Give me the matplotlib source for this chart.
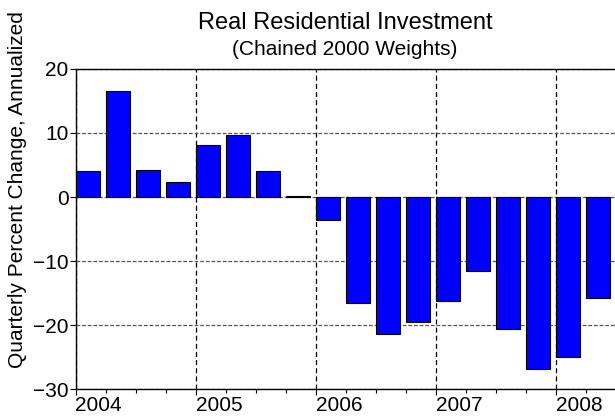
import matplotlib
matplotlib.use("Agg")
import matplotlib.pyplot as plt
from matplotlib.ticker import MultipleLocator, FixedLocator

plt.rcParams['font.family'] = ['Liberation Sans', 'DejaVu Sans']

# datos: trimestres 2004Q1 - 2008Q2
anios = [2004, 2004, 2004, 2004, 2005, 2005, 2005, 2005, 2006, 2006, 2006, 2006,
         2007, 2007, 2007, 2007, 2008, 2008]
trimestres = [1, 2, 3, 4, 1, 2, 3, 4, 1, 2, 3, 4, 1, 2, 3, 4, 1, 2]
valores = [4.0, 16.6, 4.2, 2.4, 8.1, 9.7, 4.0, 0.15, -3.6, -16.5, -21.4, -19.5,
           -16.2, -11.6, -20.6, -26.9, -25.0, -15.8]
etiquetas_anios = ["2004", "2005", "2006", "2007", "2008"]

posiciones = [a + (t - 1) / 4 for a, t in zip(anios, trimestres)]

fig = plt.figure(figsize=(6.15, 4.19), dpi=100)
ax = fig.add_axes([75.5 / 615, 30 / 419, 541 / 615, 320 / 419])

ax.bar(posiciones, valores, width=0.2, align='edge', color='#0000FF',
       edgecolor='black', linewidth=0.8, zorder=3)

ax.set_xlim(2004, 2008.5)
ax.set_ylim(-30, 20)

# cuadricula
ax.xaxis.set_major_locator(FixedLocator([2004, 2005, 2006, 2007, 2008]))
ax.xaxis.set_minor_locator(MultipleLocator(0.25))
ax.yaxis.set_major_locator(MultipleLocator(10))
ax.set_xticklabels(etiquetas_anios, ha='left')
ax.grid(axis='x', which='major', color='black', linestyle=(0, (4, 2.5)), linewidth=0.9, zorder=1)
ax.grid(axis='y', which='major', color='#555555', linestyle=(0, (3, 1.5)), linewidth=0.9, zorder=1)
ax.set_axisbelow(True)

ax.tick_params(axis='both', which='major', direction='out', length=4, width=0.8,
               labelsize=15, pad=1)
ax.tick_params(axis='x', which='minor', direction='out', length=3, width=0.8)
ax.spines['right'].set_visible(False)
for s in ['top', 'left', 'bottom']:
    ax.spines[s].set_linewidth(1.0)

fig.text(345 / 615, 1 - 29 / 419, "Real Residential Investment", ha='center',
         va='baseline', fontsize=17)
fig.text(345 / 615, 1 - 55 / 419, "(Chained 2000 Weights)", ha='center',
         va='baseline', fontsize=15)
fig.text(18 / 615, 229 / 419, "Quarterly Percent Change, Annualized", rotation=90,
         ha='center', va='center', fontsize=15)

fig.savefig("out.png", dpi=100)
